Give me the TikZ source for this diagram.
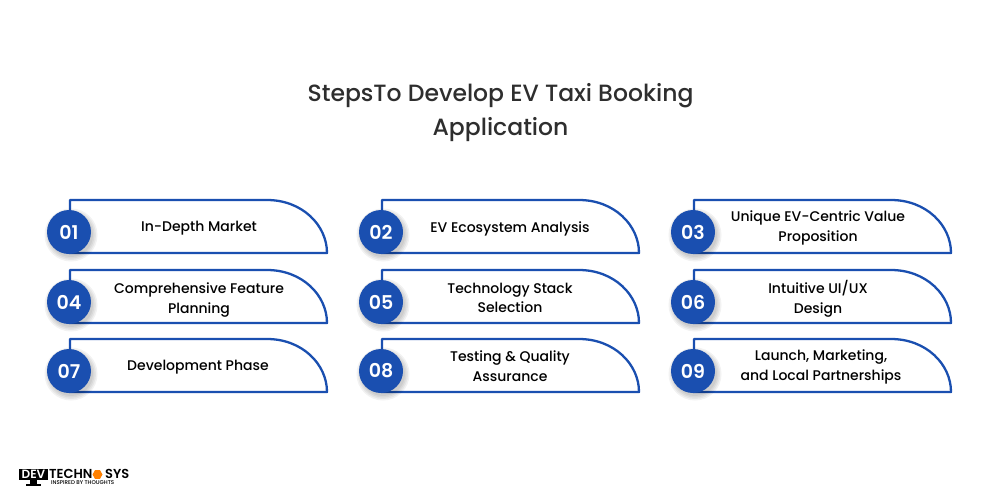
\documentclass[tikz,border=0pt]{standalone}
\usepackage{fontspec}
\setmainfont{Poppins Medium}[BoldFont={Poppins SemiBold}]
\usetikzlibrary{shapes.geometric}
\definecolor{stepblue}{HTML}{1A4FB0}
\definecolor{inkgrey}{HTML}{2E2E2E}
\tikzset{
    stepcard/.style={draw=stepblue, line width=2.3pt, line join=round},
    stepnum/.style={circle, fill=stepblue, text=white, minimum size=44pt, inner sep=0pt,
        font=\fontsize{19}{19}\selectfont\bfseries},
    steptext/.style={align=center, text=black, font=\fontsize{14}{19.5}\selectfont},
    logotext/.style={text=black, inner sep=0pt, anchor=west},
}
\begin{document}
\begin{tikzpicture}[x=1pt,y=-1pt]
    \useasboundingbox (0,0) rectangle (1000,500);
    \fill[white] (0,0) rectangle (1000,500);

    \node[align=center, text=inkgrey, font=\fontsize{23.5}{34}\selectfont] (title) at (500.5,113)
        {StepsTo Develop EV Taxi Booking\\Application};

    % cards: x, y, text x, text y, number, text
    \foreach \x/\y/\tx/\ty/\num/\label in {
        69/232/199/228/01/In-Depth Market,
        381/232/510/229/02/EV Ecosystem Analysis,
        693/232/818/228/03/{Unique EV-Centric Value\\Proposition},
        69/302/199/300/04/{Comprehensive Feature\\Planning},
        381/302/510/298/05/{Technology Stack\\Selection},
        693/302/818/299/06/{Intuitive UI/UX\\Design},
        69/371/198/367/07/Development Phase,
        381/371/510/366/08/{Testing \& Quality\\Assurance},
        693/371/821/367/09/{Launch, Marketing,\\and Local Partnerships}}
    {
        \draw[stepcard] (\x+1,\y-11) -- (\x+1,\y-32) -- (\x+198,\y-32)
            .. controls (\x+233,\y-32) and (\x+258,\y-7) .. (\x+258,\y+21) -- (\x,\y+21);
        % soft shadow under the circle
        \foreach \r in {22,23.5,25,26.5}
            \fill[black, opacity=0.05] (\x+2,\y+3) circle (\r);
        \node[stepnum] (num\num) at (\x,\y) {\num};
        \node[steptext] (card\num) at (\tx,\ty) {\label};
    }

    % logo
    \fill[black] (19,469) rectangle (48,480);
    \fill[black] (30,480) rectangle (37,484);
    \fill[black] (26,484) rectangle (41,486);
    \node[text=white, inner sep=0pt, font=\fontsize{12}{12}\selectfont\bfseries] (logodev) at (33.5,474.5) {DEV};
    \node[logotext, font=\fontsize{13}{13}\selectfont\bfseries] (logotech) at (49,474) {TECHN};
    \node[regular polygon, regular polygon sides=6, fill=orange, inner sep=0pt, minimum size=10pt] (logohex) at (97.5,474.5) {};
    \node[logotext, font=\fontsize{13}{13}\selectfont\bfseries] (logosys) at (105,474) {SYS};
    \node[logotext, font=\fontsize{5.5}{5.5}\selectfont] (logotag) at (51,483) {INSPIRED BY THOUGHTS};
\end{tikzpicture}
\end{document}
